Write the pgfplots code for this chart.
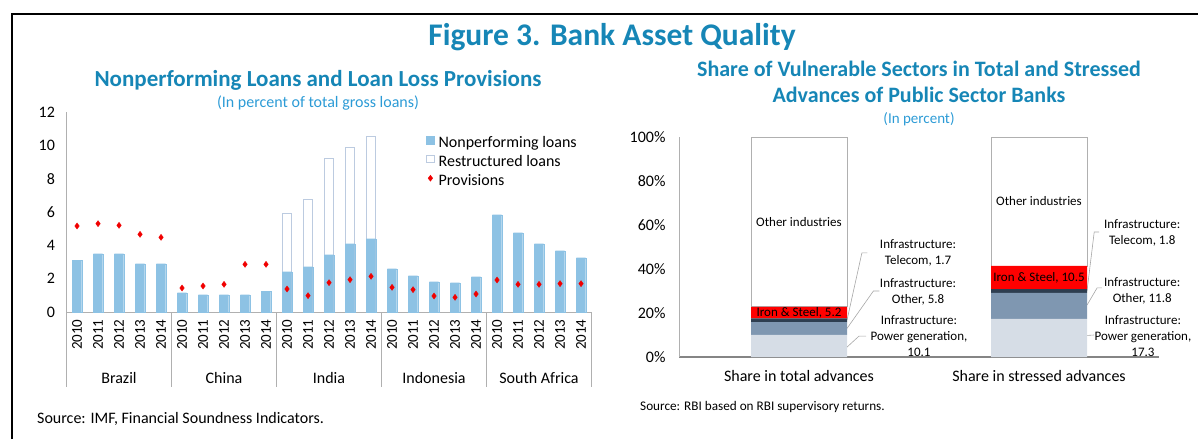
\documentclass[border=0pt]{standalone}
\usepackage{fontspec}
\setmainfont{Carlito}
\usepackage{pgfplots}
\pgfplotsset{compat=1.18}
\definecolor{titleblue}{HTML}{1686B6}
\definecolor{subblue}{HTML}{2C9BD6}
\definecolor{nplblue}{HTML}{8DC2E4}
\definecolor{restr}{HTML}{BCCBE0}
\definecolor{provred}{HTML}{F00000}
\definecolor{axisgrey}{HTML}{B0B0B0}
\definecolor{darkaxis}{HTML}{858585}
\definecolor{powc}{HTML}{D6DDE6}
\definecolor{othc}{HTML}{7F97B1}
\definecolor{telc}{HTML}{2E3E50}
\definecolor{ironc}{HTML}{FF0000}
\definecolor{leadc}{HTML}{A6A6A6}
\begin{document}
\begin{tikzpicture}[x=1pt,y=1pt]
\useasboundingbox (0,0) rectangle (1198,439);
\draw[line width=2.5pt] (12,0) -- (12,425) -- (1199,425);
\node[anchor=base, font=\fontsize{31.5}{36}\selectfont\bfseries, text=titleblue, inner sep=0pt] at (612,439-46) {Figure 3. Bank Asset Quality};
\node[anchor=base, font=\fontsize{23}{27}\selectfont\bfseries, text=titleblue, inner sep=0pt] at (318,439-87) {Nonperforming Loans and Loan Loss Provisions};
\node[anchor=base, font=\fontsize{16}{19}\selectfont, text=subblue, inner sep=0pt] at (318,439-108) {(In percent of total gross loans)};
\node[anchor=base, font=\fontsize{22}{26}\selectfont\bfseries, text=titleblue, inner sep=0pt] at (919,439-77) {Share of Vulnerable Sectors in Total and Stressed};
\node[anchor=base, font=\fontsize{22}{26}\selectfont\bfseries, text=titleblue, inner sep=0pt] at (919,439-103) {Advances of Public Sector Banks};
\node[anchor=base, font=\fontsize{15}{18}\selectfont, text=subblue, inner sep=0pt] at (919,439-124) {(In percent)};
\node[anchor=base west, font=\fontsize{16}{19}\selectfont, inner sep=0pt] at (37,439-423) {Source: IMF, Financial Soundness Indicators.};
\node[anchor=base west, font=\fontsize{13.2}{16}\selectfont, inner sep=0pt] at (640,439-410) {Source: RBI based on RBI supervisory returns.};

\begin{axis}[
  at={(66.5pt,127pt)}, anchor=south west,
  scale only axis, width=525pt, height=200pt,
  xmin=-0.5, xmax=24.5, ymin=0, ymax=12,
  axis x line=bottom, axis y line=left,
  axis line style={-, draw=axisgrey, line width=0.8pt},
  major tick length=0pt,
  ytick={0,2,...,12},
  xtick={0,...,24},
  xticklabels={2010,2011,2012,2013,2014,2010,2011,2012,2013,2014,2010,2011,2012,2013,2014,2010,2011,2012,2013,2014,2010,2011,2012,2013,2014},
  xticklabel style={rotate=90, anchor=east, font=\fontsize{15}{18}\selectfont},
  xticklabel shift=4pt,
  yticklabel style={font=\fontsize{16}{19}\selectfont},
  yticklabel shift=8pt,
  /pgf/number format/assume math mode=true,
  clip=false,
  legend style={at={(0.6848,0.885)}, anchor=north west, draw=none, fill=none, inner sep=0pt, row sep=2pt,
    font=\fontsize{16}{19}\selectfont, nodes={inner sep=1pt, text height=11pt, text depth=4pt},
    /tikz/every odd column/.append style={column sep=3pt}},
  legend cell align=left,
]
\addplot[ybar, bar width=0.45, bar shift=0pt, fill=white, draw=restr, line width=0.8pt, forget plot]
  coordinates {(10,5.9) (11,6.75) (12,9.2) (13,9.85) (14,10.52)};
\addplot[ybar, bar width=0.45, bar shift=0pt, fill=nplblue, draw=nplblue, line width=0.3pt, forget plot]
  coordinates {(0,3.12) (1,3.5) (2,3.5) (3,2.9) (4,2.9)
               (5,1.16) (6,1.04) (7,1.04) (8,1.04) (9,1.26)
               (10,2.42) (11,2.72) (12,3.44) (13,4.1) (14,4.4)
               (15,2.6) (16,2.18) (17,1.82) (18,1.76) (19,2.12)
               (20,5.84) (21,4.76) (22,4.1) (23,3.68) (24,3.26)};
\addplot[only marks, mark=diamond*, mark size=3pt, color=provred, forget plot]
  coordinates {(0,5.16) (1,5.3) (2,5.2) (3,4.66) (4,4.48)
               (5,1.44) (6,1.56) (7,1.66) (8,2.86) (9,2.86)
               (10,1.38) (11,0.98) (12,1.76) (13,1.94) (14,2.14)
               (15,1.48) (16,1.34) (17,0.96) (18,0.88) (19,1.08)
               (20,1.92) (21,1.66) (22,1.66) (23,1.7) (24,1.7)};
\addlegendimage{legend image code/.code={\fill[nplblue] (0pt,0pt) rectangle (8pt,8pt);}}
\addlegendentry{Nonperforming loans}
\addlegendimage{legend image code/.code={\draw[restr, fill=white, line width=0.8pt] (0.4pt,0.4pt) rectangle (7.6pt,7.6pt);}}
\addlegendentry{Restructured loans}
\addlegendimage{legend image code/.code={\fill[provred] (4pt,0.5pt) -- (6.3pt,3.5pt) -- (4pt,6.5pt) -- (1.7pt,3.5pt) -- cycle;}}
\addlegendentry{Provisions}
\draw[axisgrey, line width=0.8pt] (axis cs:-0.5,0) -- ++(0pt,-75pt);
\draw[axisgrey, line width=0.8pt] (axis cs:4.5,0) -- ++(0pt,-75pt);
\draw[axisgrey, line width=0.8pt] (axis cs:9.5,0) -- ++(0pt,-75pt);
\draw[axisgrey, line width=0.8pt] (axis cs:14.5,0) -- ++(0pt,-75pt);
\draw[axisgrey, line width=0.8pt] (axis cs:19.5,0) -- ++(0pt,-75pt);
\draw[axisgrey, line width=0.8pt] (axis cs:24.5,0) -- ++(0pt,-75pt);
\node[anchor=base, font=\fontsize{16}{19}\selectfont] at ([yshift=-71pt]axis cs:2,0) {Brazil};
\node[anchor=base, font=\fontsize{16}{19}\selectfont] at ([yshift=-71pt]axis cs:7,0) {China};
\node[anchor=base, font=\fontsize{16}{19}\selectfont] at ([yshift=-71pt]axis cs:12,0) {India};
\node[anchor=base, font=\fontsize{16}{19}\selectfont] at ([yshift=-71pt]axis cs:17,0) {Indonesia};
\node[anchor=base, font=\fontsize{16}{19}\selectfont] at ([yshift=-71pt]axis cs:22,0) {South Africa};
\end{axis}

\begin{axis}[
  at={(679pt,82pt)}, anchor=south west,
  scale only axis, width=480pt, height=220pt,
  xmin=-0.5, xmax=1.5, ymin=0, ymax=100,
  ybar stacked, bar width=0.4,
  axis x line=bottom, axis y line=left,
  x axis line style={-, draw=darkaxis, line width=1.3pt},
  y axis line style={-, draw=axisgrey, line width=0.8pt},
  major tick length=0pt,
  ytick={0,20,40,60,80,100}, yticklabels={0\%,20\%,40\%,60\%,80\%,100\%},
  yticklabel style={font=\fontsize{16}{19}\selectfont},
  yticklabel shift=10pt,
  xtick={0,1}, xticklabels={Share in total advances,Share in stressed advances},
  xticklabel style={anchor=base, font=\fontsize{16}{19}\selectfont},
  xticklabel shift=24pt,
  clip=false,
]
\addplot[fill=powc, draw=none] coordinates {(0,10.1) (1,17.3)};
\addplot[fill=othc, draw=none] coordinates {(0,5.8) (1,11.8)};
\addplot[fill=telc, draw=none] coordinates {(0,1.7) (1,1.8)};
\addplot[fill=ironc, draw=none] coordinates {(0,5.2) (1,10.5)};
\addplot[fill=white, draw=axisgrey, line width=0.8pt] coordinates {(0,77.2) (1,58.6)};
\coordinate (oi1) at (axis cs:0,61.4);
\coordinate (oi2) at (axis cs:1,70.7);
\coordinate (is1) at (axis cs:0,20.2);
\coordinate (is2) at (axis cs:1,36.0);
\coordinate (t1) at (axis cs:0.496,47.5);
\coordinate (o1) at (axis cs:0.496,29.5);
\coordinate (p1) at (axis cs:0.5,9.3);
\coordinate (t2) at (axis cs:1.43,56.4);
\coordinate (o2) at (axis cs:1.43,30.2);
\coordinate (p2) at (axis cs:1.433,9.3);
\draw[leadc, line width=0.6pt] (axis cs:0.2,16.75) -- (axis cs:0.262,47.3) -- (axis cs:0.285,47.3);
\draw[leadc, line width=0.6pt] (axis cs:0.2,13) -- (axis cs:0.31,30) -- (axis cs:0.335,30);
\draw[leadc, line width=0.6pt] (axis cs:0.2,4.5) -- (axis cs:0.25,9.5) -- (axis cs:0.28,9.5);
\draw[leadc, line width=0.6pt] (axis cs:1.2,30) -- (axis cs:1.23,56.8) -- (axis cs:1.25,56.8);
\draw[leadc, line width=0.6pt] (axis cs:1.2,23.6) -- (axis cs:1.242,31.4) -- (axis cs:1.262,31.4);
\draw[leadc, line width=0.6pt] (axis cs:1.2,9.8) -- (axis cs:1.23,10);
\end{axis}
\begin{scope}[every node/.style={font=\fontsize{13}{16}\selectfont, align=center, inner sep=0pt}]
\node at (oi1) {Other industries};
\node at (oi2) {Other industries};
\node at (is1) {Iron \& Steel, 5.2};
\node at (is2) {Iron \& Steel, 10.5};
\node at (t1) {Infrastructure:\\Telecom, 1.7};
\node at (o1) {Infrastructure:\\Other, 5.8};
\node at (p1) {Infrastructure:\\Power generation,\\10.1};
\node at (t2) {Infrastructure:\\Telecom, 1.8};
\node at (o2) {Infrastructure:\\Other, 11.8};
\node at (p2) {Infrastructure:\\Power generation,\\17.3};
\end{scope}
\end{tikzpicture}
\end{document}
